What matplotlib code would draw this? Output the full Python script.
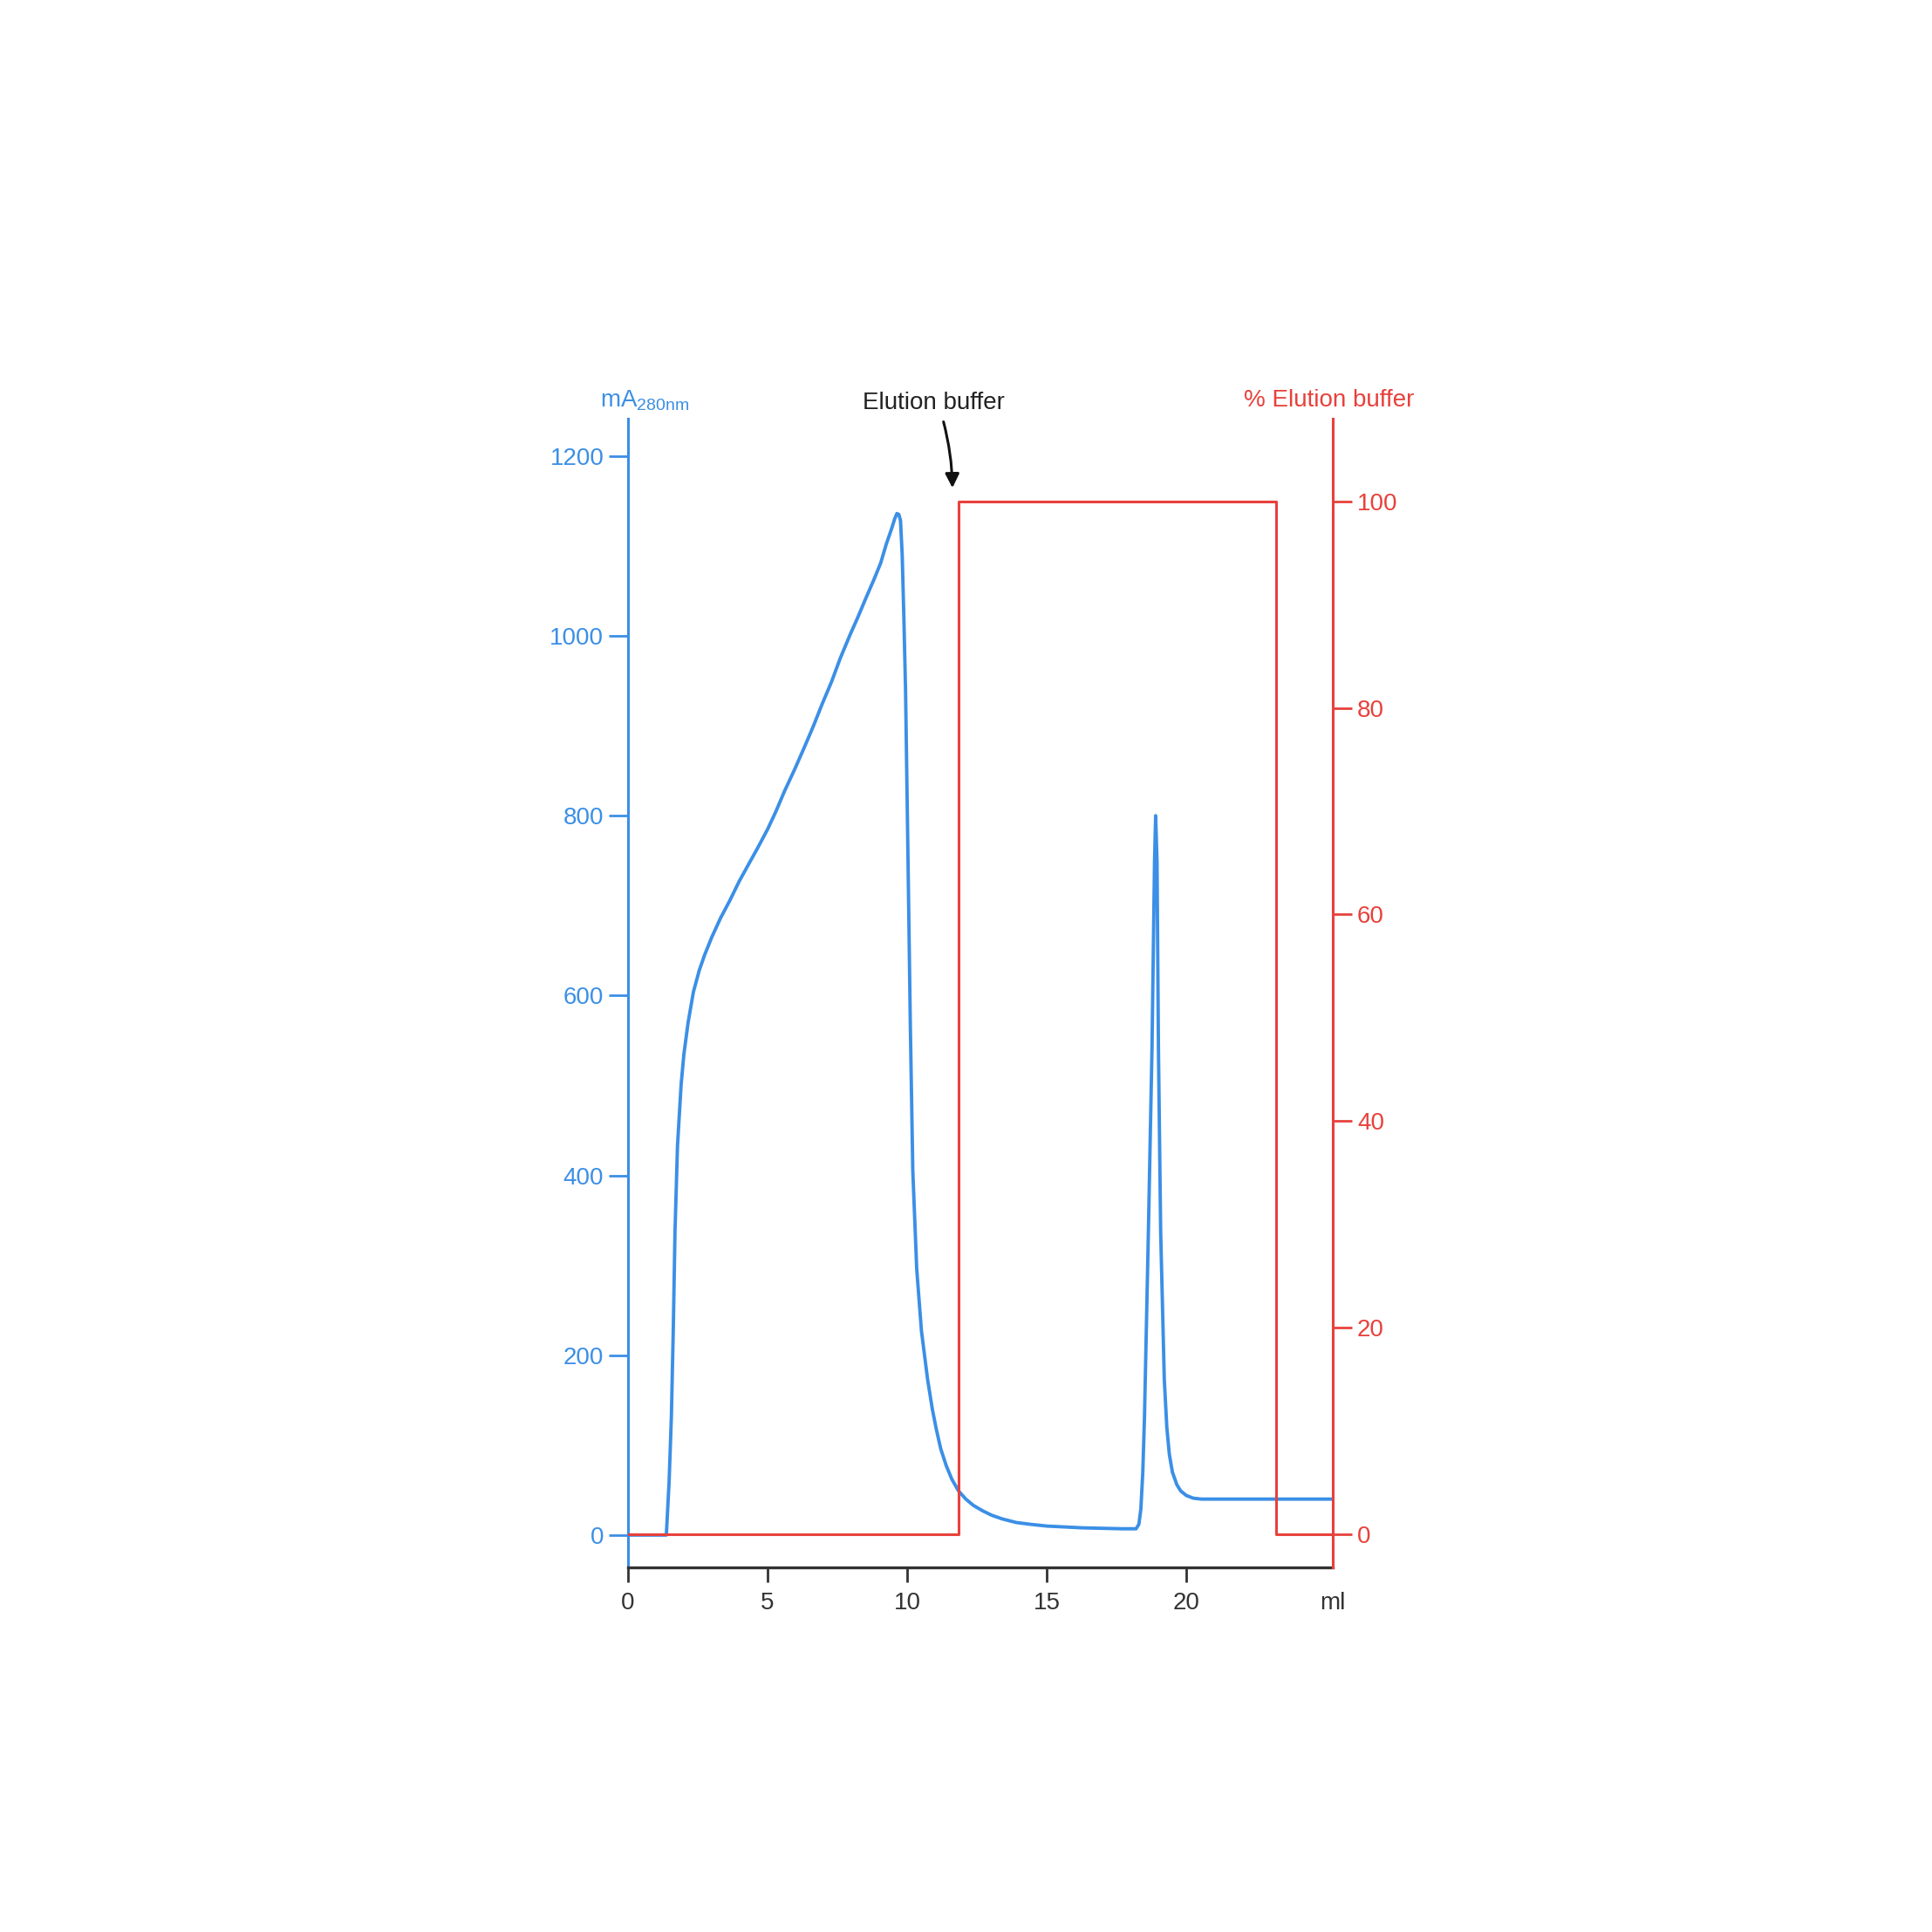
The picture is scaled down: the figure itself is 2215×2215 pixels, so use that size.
import numpy as np
import matplotlib
matplotlib.use("Agg")
from matplotlib import pyplot as plt

plt.rcParams['font.family'] = ['Liberation Sans', 'DejaVu Sans']

# UV absorbance trace (ml, mA280nm)
volume_ml = [0, 1.37, 1.47, 1.55, 1.62, 1.68, 1.77, 1.9, 2.0, 2.15, 2.34, 2.55,
             2.74, 3.0, 3.31, 3.65, 3.98, 4.3, 4.64, 5.0, 5.3, 5.6, 5.96, 6.3,
             6.63, 6.95, 7.29, 7.6, 7.95, 8.25, 8.52, 8.8, 9.05, 9.25, 9.45,
             9.55, 9.63, 9.7, 9.76, 9.82, 9.88, 9.94, 10.03, 10.11, 10.2, 10.34,
             10.51, 10.73, 10.9, 11.04, 11.2, 11.4, 11.6, 11.84, 12.1, 12.37,
             12.7, 13.03, 13.4, 13.9, 14.4, 15.0, 16.3, 17.7, 18.2, 18.3, 18.37,
             18.44, 18.5, 18.64, 18.77, 18.86, 18.9, 18.95, 19.0, 19.08, 19.21,
             19.3, 19.39, 19.5, 19.66, 19.8, 20.0, 20.25, 20.54, 25.25]
absorbance = [0, 0, 60, 131, 230, 337, 433, 501, 535, 570, 604, 628,
              645, 665, 686, 706, 727, 745, 764, 785, 805, 827, 851, 875,
              899, 924, 949, 975, 1001, 1022, 1042, 1062, 1081, 1102, 1120,
              1130, 1136, 1135, 1128, 1090, 1020, 940, 748, 570, 405, 296,
              227, 173, 140, 118, 96, 77, 62, 49, 40, 33,
              27, 22, 18, 14, 12, 10, 8, 7, 7, 12, 29,
              70, 131, 337, 542, 748, 800, 748, 542, 337, 173,
              120, 90, 70, 56, 49, 44, 41, 40, 40]

# step gradient (% elution buffer)
buffer_ml = [0, 11.85, 11.85, 23.2, 23.2, 25.25]
buffer_pct = [0, 0, 100, 100, 0, 0]

blue = '#3b8fe6'
red = '#e8413c'
fs = 20

fig = plt.figure(figsize=(22.15, 22.15), dpi=100)
ax = fig.add_axes([0.3251, 0.1887, 0.3648, 0.5946])
ax2 = ax.twinx()

ax.plot(volume_ml, absorbance, color=blue, lw=2.8, zorder=3,
        solid_joinstyle='round')
ax2.plot(buffer_ml, buffer_pct, color=red, lw=2.2, zorder=2)

ax.set_xlim(0, 25.25)
ax.set_ylim(-36, 1241.5)
ax2.set_ylim(-3.2, 108)

ax.set_xticks([0, 5, 10, 15, 20, 25.25])
ax.set_xticklabels(['0', '5', '10', '15', '20', 'ml'])
ax.xaxis.get_major_ticks()[-1].tick1line.set_visible(False)
ax.set_yticks([0, 200, 400, 600, 800, 1000, 1200])
ax2.set_yticks([0, 20, 40, 60, 80, 100])

for s in ['top', 'right']:
    ax.spines[s].set_visible(False)
for s in ['top', 'left', 'bottom']:
    ax2.spines[s].set_visible(False)
ax.spines['left'].set_color(blue)
ax.spines['left'].set_linewidth(2.2)
ax.spines['bottom'].set_color('#333333')
ax.spines['bottom'].set_linewidth(2.4)
ax2.spines['right'].set_color(red)
ax2.spines['right'].set_linewidth(2.2)

ax.tick_params(axis='y', colors=blue, length=16, width=2, pad=4, labelsize=fs)
ax.tick_params(axis='x', colors='#333333', length=12, width=2, pad=8, labelsize=fs)
ax2.tick_params(axis='y', colors=red, length=16, width=2, pad=4, labelsize=fs)

ax.text(-0.04, 1.016, r'mA$_{\mathregular{280nm}}$', transform=ax.transAxes,
        ha='left', va='center', fontsize=fs, color=blue)
ax2.text(0.995, 1.016, '% Elution buffer', transform=ax2.transAxes,
         ha='center', va='center', fontsize=fs, color=red)

ax2.text(10.95, 109.5, 'Elution buffer', ha='center', va='center',
         fontsize=fs, color='#222222')
ax2.annotate('', xy=(11.62, 101.3), xytext=(11.3, 107.7),
             annotation_clip=False,
             arrowprops=dict(arrowstyle='-|>', color='#111111', lw=2.2,
                             mutation_scale=24, shrinkA=0, shrinkB=0,
                             connectionstyle='arc3,rad=-0.06'))

plt.savefig('out.png', dpi=100)
